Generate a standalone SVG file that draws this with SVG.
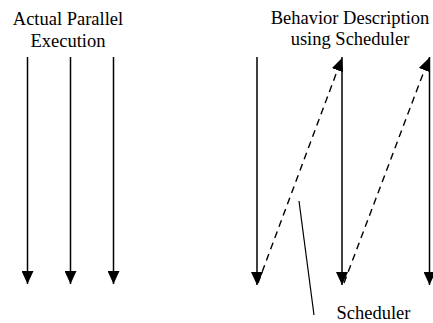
<svg xmlns="http://www.w3.org/2000/svg" width="433" height="323" viewBox="0 0 433 323">
  <defs>
    <marker id="head" viewBox="0 0 13 12" refX="13" refY="6" markerWidth="13" markerHeight="12" markerUnits="userSpaceOnUse" orient="auto">
      <path d="M0,0 L13,6 L0,12 Z" fill="#000"/>
    </marker>
    <style>
      text { font-family: 'Liberation Serif', 'DejaVu Serif', serif; font-size: 18.5px; fill: #000; text-anchor: middle; }
      .flow { stroke: #000; stroke-width: 1.5; fill: none; marker-end: url(#head); }
      .sched { stroke: #000; stroke-width: 1.4; fill: none; stroke-dasharray: 7 5; marker-end: url(#head); }
      .lead { stroke: #000; stroke-width: 1.2; fill: none; }
    </style>
  </defs>
  <rect width="433" height="323" fill="#fff"/>

  <g id="title-parallel">
    <text x="68" y="25" font-family="Liberation Serif, serif">Actual Parallel</text>
    <text x="68" y="46.5" font-family="Liberation Serif, serif">Execution</text>
  </g>
  <g id="title-scheduler">
    <text x="350" y="24" font-family="Liberation Serif, serif">Behavior Description</text>
    <text x="350" y="45" font-family="Liberation Serif, serif">using Scheduler</text>
  </g>
  <g id="label-scheduler">
    <text x="373.5" y="319" font-family="Liberation Serif, serif">Scheduler</text>
  </g>

  <g id="connectors">
    <!-- parallel threads -->
    <line class="flow" x1="27.5" y1="57" x2="27.5" y2="284"/>
    <line class="flow" x1="70.5" y1="57" x2="70.5" y2="284"/>
    <line class="flow" x1="113.5" y1="57" x2="113.5" y2="284"/>
    <!-- scheduled behaviors -->
    <line class="flow" x1="257" y1="57" x2="257" y2="285"/>
    <line class="flow" x1="342" y1="57" x2="342" y2="285"/>
    <line class="flow" x1="429.5" y1="57" x2="429.5" y2="285"/>
    <!-- scheduler hand-offs -->
    <line class="sched" x1="258" y1="283" x2="342" y2="58"/>
    <line class="sched" x1="344" y1="283" x2="429" y2="58"/>
    <!-- label leader -->
    <line class="lead" x1="299" y1="201" x2="314" y2="315"/>
  </g>
</svg>
